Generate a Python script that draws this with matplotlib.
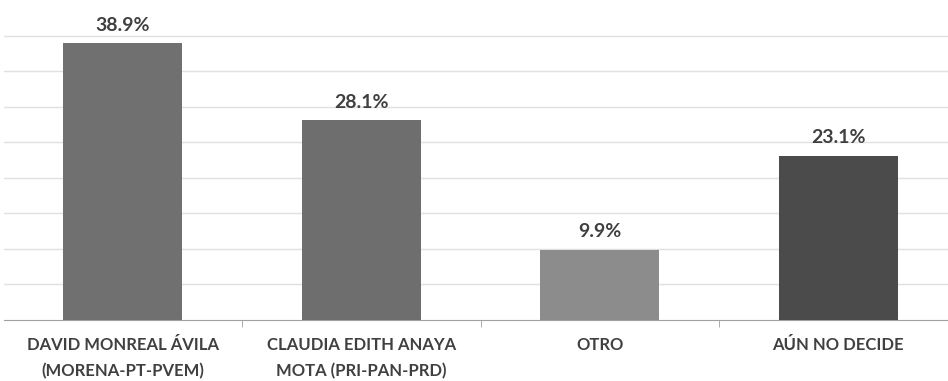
import numpy as np
import matplotlib
matplotlib.use("Agg")
import matplotlib.pyplot as plt

plt.rcParams["font.family"] = ["Lato", "DejaVu Sans"]

categories = ["DAVID MONREAL ÁVILA\n(MORENA-PT-PVEM)",
              "CLAUDIA EDITH ANAYA\nMOTA (PRI-PAN-PRD)",
              "OTRO",
              "AÚN NO DECIDE"]
values = [38.9, 28.1, 9.9, 23.1]
labels = ["38.9%", "28.1%", "9.9%", "23.1%"]
colors = ["#707070", "#6e6e6e", "#8c8c8c", "#4b4b4b"]

W, H = 948, 381
fig = plt.figure(figsize=(W / 100, H / 100), dpi=100)
# eje un poco más ancho que la imagen (recortado a la derecha, como el original)
ax = fig.add_axes([3.5 / W, (H - 320) / H, 954 / W, 320 / H])

x = np.arange(len(values))
ax.bar(x, values, width=0.5, color=colors, zorder=3)
ax.set_xlim(-0.5, len(values) - 0.5)
ax.set_ylim(0, 45)
ax.set_yticks(np.arange(5, 45, 5))
ax.yaxis.grid(True, color="#e0e0e0", lw=1)
ax.tick_params(axis="y", left=False, labelleft=False)
ax.set_xticks(x)
ax.set_xticklabels(categories, fontsize=12, fontweight="bold", color="#404040",
                   linespacing=1.75)
ax.tick_params(axis="x", length=0, pad=12)
ax.set_xticks(np.arange(0.5, len(values) - 0.5, 1), minor=True)
ax.tick_params(axis="x", which="minor", length=5, color="#a0a0a0", direction="out")
for s in ["top", "right", "left"]:
    ax.spines[s].set_visible(False)
ax.spines["bottom"].set_color("#a0a0a0")

for i, (v, t) in enumerate(zip(values, labels)):
    ax.text(i, v + 1.3, t, ha="center", va="bottom", fontsize=14,
            fontweight="bold", color="#404040")

fig.savefig("out.png", dpi=100)
